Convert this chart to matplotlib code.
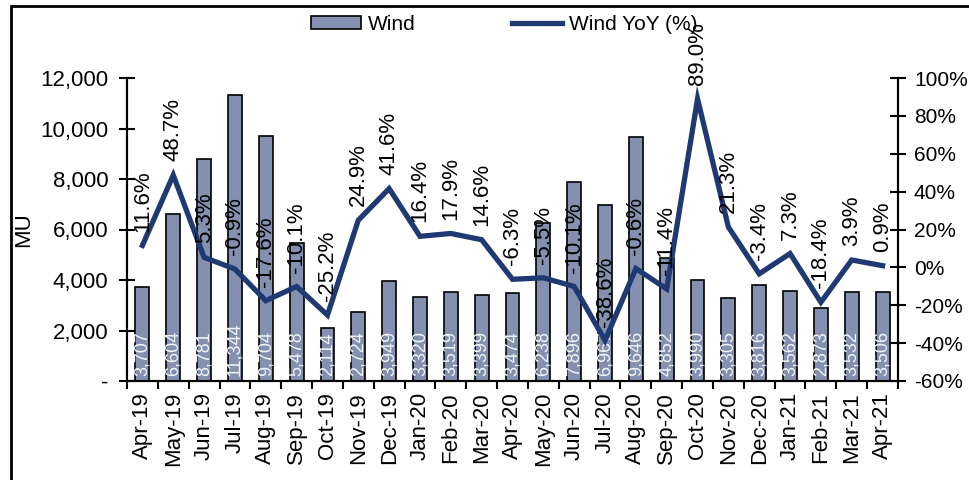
import matplotlib.pyplot as plt
from matplotlib.ticker import FuncFormatter, FixedLocator
from matplotlib.patches import Rectangle

plt.rcParams['font.family'] = ['Liberation Sans', 'DejaVu Sans']

months = ['Apr-19', 'May-19', 'Jun-19', 'Jul-19', 'Aug-19', 'Sep-19', 'Oct-19', 'Nov-19',
          'Dec-19', 'Jan-20', 'Feb-20', 'Mar-20', 'Apr-20', 'May-20', 'Jun-20', 'Jul-20',
          'Aug-20', 'Sep-20', 'Oct-20', 'Nov-20', 'Dec-20', 'Jan-21', 'Feb-21', 'Mar-21', 'Apr-21']
wind = [3707, 6604, 8781, 11344, 9704, 5478, 2114, 2724, 3949, 3320, 3519, 3399, 3474,
        6238, 7896, 6967, 9646, 4852, 3990, 3305, 3816, 3562, 2873, 3532, 3506]
wind_yoy = [11.6, 48.7, 5.3, -0.9, -17.6, -10.1, -25.2, 24.9, 41.6, 16.4, 17.9, 14.6, -6.3,
            -5.5, -10.1, -38.6, -0.6, -11.4, 89.0, 21.3, -3.4, 7.3, -18.4, 3.9, 0.9]

bar_color = '#8390b0'
line_color = '#1f3a73'

fig = plt.figure(figsize=(9.7, 4.8), dpi=100)
ax = fig.add_axes([127 / 970, 1 - 381 / 480, (898 - 127) / 970, (381 - 78) / 480])
ax2 = ax.twinx()

x = list(range(len(months)))
bars = ax.bar(x, wind, width=0.45, color=bar_color, edgecolor='black', linewidth=1.2, label='Wind')
for xi, v in zip(x, wind):
    ax.text(xi, 180, f'{v:,}', rotation=90, ha='center', va='bottom',
            color='#f2f4f8', fontsize=13)

line, = ax2.plot(x, wind_yoy, color=line_color, linewidth=3.8, label='Wind YoY (%)',
                 solid_joinstyle='miter')
for xi, v in zip(x, wind_yoy):
    ax2.annotate(f'{v:.1f}%', (xi, v), xytext=(0, 10), textcoords='offset points',
                 rotation=90, ha='center', va='bottom', fontsize=16, annotation_clip=False)

ax.set_xlim(-0.5, len(months) - 0.5)
ax.set_ylim(0, 12000)
ax2.set_ylim(-60, 100)
ax.set_yticks(range(0, 12001, 2000))
ax2.set_yticks(range(-60, 101, 20))
ax.yaxis.set_major_formatter(FuncFormatter(lambda v, p: '-' if v == 0 else f'{int(v):,}'))
ax2.yaxis.set_major_formatter(FuncFormatter(lambda v, p: f'{int(v)}%'))

ax.set_xticks(x)
ax.set_xticklabels(months, rotation=90, fontsize=16)
ax.xaxis.set_minor_locator(FixedLocator([i - 0.5 for i in range(len(months) + 1)]))
ax.tick_params(axis='x', which='major', length=0, pad=8)
ax.tick_params(axis='x', which='minor', length=6, width=1.5, direction='out')
ax.tick_params(axis='y', labelsize=16, direction='inout', length=11, width=1.5, pad=8)
ax2.tick_params(axis='y', labelsize=15, direction='inout', length=11, width=1.5, pad=6)

for a in (ax, ax2):
    a.spines['top'].set_visible(False)
    for s in ('left', 'right', 'bottom'):
        a.spines[s].set_linewidth(1.5)

ax.set_ylabel('MU', fontsize=16, labelpad=4)

fig.legend(handles=[bars, line], loc='center', bbox_to_anchor=(0.52, 1 - 24 / 480), ncol=2,
           frameon=False, fontsize=15, handlelength=2.4, handleheight=0.6,
           handletextpad=0.35, columnspacing=4.6)

fig.patches.append(Rectangle((11 / 970, -0.1), 1.2, 1.1 - 6 / 480, transform=fig.transFigure,
                             fill=False, edgecolor='black', linewidth=2, zorder=10))

fig.savefig('out.png', dpi=100)
